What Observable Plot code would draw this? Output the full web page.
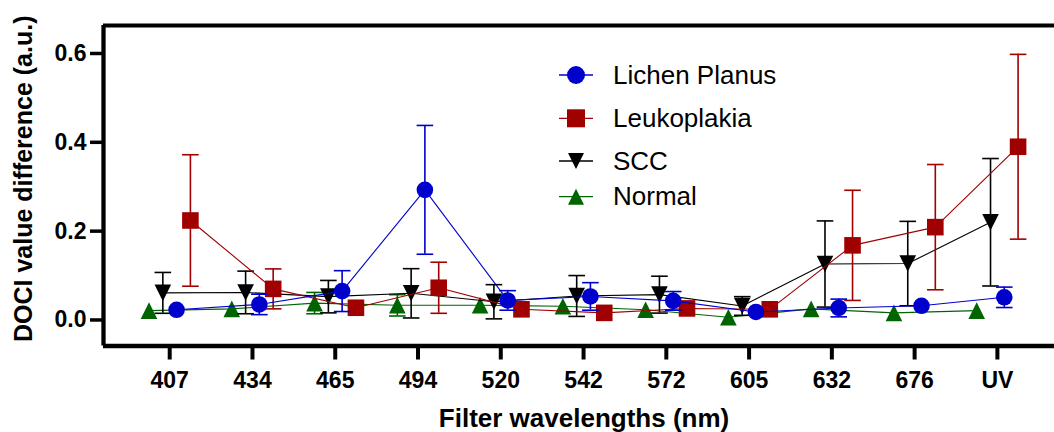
<!DOCTYPE html>
<html><head><meta charset="utf-8">
<script src="https://cdn.jsdelivr.net/npm/d3@7"></script>
<script src="https://cdn.jsdelivr.net/npm/@observablehq/plot@0.6"></script>
<style>
body{margin:0;background:#fff;}
#wrap{position:relative;width:1054px;height:432px;font-family:"Liberation Sans",Arial,sans-serif;}
#wrap svg{display:block;}
#legend{position:absolute;left:0;top:0;}
</style></head><body><div id="wrap"></div>
<script>
// ---- data ----
const categories = ["407","434","465","494","520","542","572","605","632","676","UV"];
const lichenMean = [0.023,0.035,0.065,0.293,0.044,0.053,0.043,0.018,0.027,0.032,0.051];
const lichenSD   = [0.006,0.023,0.046,0.145,0.022,0.031,0.021,0.006,0.020,0.006,0.023];
const leukoMean  = [0.224,0.070,0.0275,0.0725,0.024,0.016,0.026,0.024,0.168,0.209,0.390];
const leukoSD    = [0.148,0.045,0.006,0.0575,0.006,0.006,0.006,0.006,0.124,0.141,0.208];
const sccMean    = [0.061,0.062,0.0525,0.060,0.041,0.054,0.057,0.0315,0.126,0.127,0.220];
const sccSD      = [0.046,0.048,0.0365,0.0555,0.0385,0.046,0.0415,0.021,0.097,0.095,0.1435];
const normalMean = [0.021,0.025,0.038,0.033,0.033,0.031,0.023,0.006,0.025,0.016,0.021];
const normalSD   = [0.006,0.006,0.024,0.024,0.006,0.006,0.006,0.006,0.006,0.006,0.006];
const yTicks = [0, 0.2, 0.4, 0.6];
const seriesNames = ["Lichen Planus","Leukoplakia","SCC","Normal"];

// ---- symbols ----
const triUp = {draw(c, size){const r=Math.sqrt(size/Math.PI); c.moveTo(0,-r); c.lineTo(r,r); c.lineTo(-r,r); c.closePath();}};
const triDown = {draw(c, size){const r=Math.sqrt(size/Math.PI); c.moveTo(0,r); c.lineTo(r,-r); c.lineTo(-r,-r); c.closePath();}};
const sq = {draw(c, size){const r=Math.sqrt(size/Math.PI); c.rect(-r,-r,2*r,2*r);}};
const circ = {draw(c, size){const r=Math.sqrt(size/Math.PI); c.moveTo(r,0); c.arc(0,0,r,0,2*Math.PI);}};
const cap = {draw(c, size){const r=Math.sqrt(size/Math.PI); c.moveTo(-r,0); c.lineTo(r,0);}};

const series = [
  {name:"Normal", mean:normalMean, sd:normalSD, color:"#006400", offset:-0.25, symbol:triUp},
  {name:"SCC", mean:sccMean, sd:sccSD, color:"#000000", offset:-0.083, symbol:triDown},
  {name:"Leukoplakia", mean:leukoMean, sd:leukoSD, color:"#a00000", offset:0.25, symbol:sq},
  {name:"Lichen Planus", mean:lichenMean, sd:lichenSD, color:"#0000cc", offset:0.083, symbol:circ}
];

const marks = [];
for (const s of series) {
  const rows = categories.map((c,i)=>({x:i+s.offset, mean:s.mean[i], sd:s.sd[i]}));
  const bars = rows.filter(d=>d.sd>=0.012);
  marks.push(
    Plot.line(rows, {x:"x", y:"mean", stroke:s.color, strokeWidth:1.1}),
    Plot.ruleX(bars, {x:"x", y1:d=>d.mean-d.sd, y2:d=>d.mean+d.sd, stroke:s.color, strokeWidth:1.6}),
    Plot.dot(bars, {x:"x", y:d=>d.mean+d.sd, symbol:cap, r:8.3, stroke:s.color, strokeWidth:1.6, fill:"none"}),
    Plot.dot(bars, {x:"x", y:d=>d.mean-d.sd, symbol:cap, r:8.3, stroke:s.color, strokeWidth:1.6, fill:"none"}),
    Plot.dot(rows, {x:"x", y:"mean", symbol:s.symbol, r:8.3, fill:s.color, stroke:"none"})
  );
}

const xDom = [-0.80, 10.69];
const yDom = [-0.0586, 0.663];

const chart = Plot.plot({
  width:1054, height:432,
  marginLeft:103, marginRight:0, marginTop:25, marginBottom:86.5,
  style:{fontFamily:'"Liberation Sans", Arial, sans-serif', color:"black", background:"white", overflow:"visible"},
  x:{type:"linear", domain:xDom},
  y:{domain:yDom},
  marks:[
    ...marks,
    Plot.ruleY([yDom[1]], {stroke:"black", strokeWidth:4}),
    Plot.ruleX([xDom[0]], {stroke:"black", strokeWidth:4.3}),
    Plot.ruleY([yDom[0]], {stroke:"black", strokeWidth:4.5}),
    Plot.axisX({ticks:d3.range(categories.length), tickFormat:i=>categories[i], tickSize:14, tickPadding:12, strokeWidth:4, fontSize:23, fontWeight:"bold", label:null}),
    Plot.axisY({ticks:yTicks, tickFormat:d3.format(".1f"), tickSize:13, tickPadding:4, strokeWidth:3.5, fontSize:23, fontWeight:"bold", label:null}),
    Plot.text(["DOCI value difference (a.u.)"], {frameAnchor:"left", rotate:-90, dx:-79.5, dy:-7, fontSize:25, fontWeight:"bold", lineAnchor:"middle", textAnchor:"middle"}),
    Plot.text(["Filter wavelengths (nm)"], {frameAnchor:"bottom", dx:5, dy:72.5, fontSize:26, fontWeight:"bold", lineAnchor:"middle", textAnchor:"middle"})
  ]
});
document.getElementById("wrap").appendChild(chart);

// ---- legend overlay ----
const legendItems = [
  {name:seriesNames[0], color:"#0000cc", symbol:d3.symbolCircle, size:Math.PI*9*9, rowY:75},
  {name:seriesNames[1], color:"#a00000", symbol:d3.symbolSquare, size:18*18, rowY:118.3},
  {name:seriesNames[2], color:"#000000", symbol:"down", size:0, rowY:161},
  {name:seriesNames[3], color:"#006400", symbol:"up", size:0, rowY:196.7}
];
const lg = d3.select("#wrap").append("svg").attr("id","legend").attr("width",1054).attr("height",432);
for (const it of legendItems) {
  const g = lg.append("g").attr("transform",`translate(576,${it.rowY})`);
  g.append("line").attr("x1",-17).attr("x2",17).attr("stroke",it.color).attr("stroke-width",1.3);
  let path;
  if (it.symbol==="down") path = "M0,8L8,-8L-8,-8Z";
  else if (it.symbol==="up") path = "M0,-8L8,8L-8,8Z";
  else path = d3.symbol(it.symbol, it.size)();
  g.append("path").attr("d",path).attr("fill",it.color);
  lg.append("text").attr("x",613).attr("y",it.rowY+8.5).attr("font-size",26)
    .attr("font-family",'"Liberation Sans", Arial, sans-serif').attr("fill","black").text(it.name);
}
</script></body></html>
